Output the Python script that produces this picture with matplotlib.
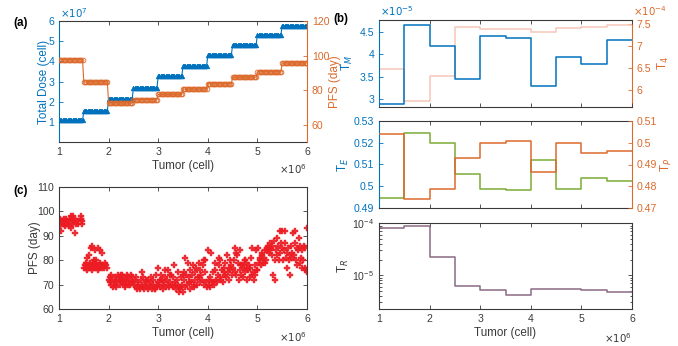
import numpy as np
import matplotlib.pyplot as plt
from matplotlib.ticker import FuncFormatter, LogLocator, NullFormatter

plt.rcParams['font.family'] = ['Liberation Sans', 'DejaVu Sans']

BLUE = (0.0, 0.447, 0.741)
ORANGE = '#dc6a2c'
PINK = '#f6c6b8'
GREEN = '#7aab36'
PURPLE = '#8a6a84'
RED = '#ec1c24'
GRAY = '#3a3a3a'
TICK_FS = 7.6
LAB_FS = 8.4
EXP_FS = 7.4

# tumour size bins, in units of 1e6 cells
step_edges = [1.0, 1.5, 2.0, 2.5, 3.0, 3.5, 4.0, 4.5, 5.0, 5.5, 6.0]

# (a) total dose and PFS per bin
total_dose = [1.07e7, 1.55e7, 2.13e7, 2.68e7, 3.25e7, 3.75e7, 4.30e7, 4.83e7, 5.32e7, 5.77e7]
pfs_step = [97.6, 84.7, 72.5, 74.5, 77.5, 80.6, 83.7, 87.5, 90.6, 95.7]

# (b) optimal schedule parameters per bin
t_m = [2.88e-5, 4.67e-5, 4.18e-5, 3.45e-5, 4.42e-5, 4.37e-5, 3.29e-5, 3.95e-5, 3.78e-5, 4.32e-5]
t_4 = [6.48e-4, 5.75e-4, 6.31e-4, 7.45e-4, 7.39e-4, 7.39e-4, 7.32e-4, 7.41e-4, 7.43e-4, 7.49e-4]
t_e = [0.4948, 0.5245, 0.5200, 0.5057, 0.4990, 0.4982, 0.5122, 0.4990, 0.5040, 0.5026]
t_p = [0.5039, 0.4744, 0.4788, 0.4931, 0.4998, 0.5009, 0.4867, 0.5000, 0.4951, 0.4963]
t_r = [8.0e-5, 8.85e-5, 2.23e-5, 6.1e-6, 5.1e-6, 4.2e-6, 5.4e-6, 5.5e-6, 5.2e-6, 4.75e-6]

# (c) PFS of individual virtual patients (tumour in 1e6 cells, PFS in days)
pfs_tumor = [
    1.00, 1.02, 1.03, 1.05, 1.06, 1.08, 1.09, 1.11, 1.12, 1.14, 1.15, 1.17, 1.18, 1.20, 1.21, 1.23, 1.24, 1.26,
    1.27, 1.29, 1.30, 1.32, 1.33, 1.35, 1.36, 1.38, 1.44, 1.45, 1.46, 1.47, 1.03, 1.10, 1.25, 1.28, 1.45,
    1.50, 1.52, 1.54, 1.55, 1.57, 1.58, 1.60, 1.62, 1.63, 1.65, 1.66, 1.68, 1.70, 1.71, 1.73, 1.75, 1.76, 1.78,
    1.80, 1.81, 1.83, 1.85, 1.87, 1.89, 1.91, 1.93, 1.95, 1.97, 1.56, 1.60, 1.64, 1.67, 1.72, 1.74, 1.79, 1.82,
    1.86, 1.69,
    2.00, 2.02, 2.03, 2.05, 2.07, 2.08, 2.10, 2.12, 2.13, 2.15, 2.17, 2.18, 2.20, 2.22, 2.23, 2.25, 2.27, 2.28,
    2.30, 2.32, 2.33, 2.35, 2.37, 2.38, 2.40, 2.42, 2.43, 2.45, 2.47, 2.48, 2.04, 2.14, 2.24, 2.34, 2.44,
    2.50, 2.52, 2.54, 2.55, 2.57, 2.59, 2.60, 2.62, 2.64, 2.65, 2.67, 2.69, 2.70, 2.72, 2.74, 2.75, 2.77, 2.79,
    2.80, 2.82, 2.84, 2.85, 2.87, 2.89, 2.90, 2.92, 2.94, 2.95, 2.97, 2.99, 2.56, 2.68, 2.76, 2.86, 2.93,
    3.00, 3.02, 3.04, 3.05, 3.07, 3.09, 3.10, 3.12, 3.14, 3.15, 3.17, 3.19, 3.20, 3.22, 3.24, 3.25, 3.27, 3.29,
    3.30, 3.32, 3.34, 3.35, 3.37, 3.39, 3.40, 3.42, 3.44, 3.45, 3.47, 3.49, 3.03, 3.13, 3.23, 3.33, 3.43,
    3.50, 3.52, 3.54, 3.55, 3.57, 3.59, 3.60, 3.62, 3.64, 3.65, 3.67, 3.69, 3.70, 3.72, 3.74, 3.75, 3.77, 3.79,
    3.80, 3.82, 3.84, 3.85, 3.87, 3.89, 3.90, 3.92, 3.94, 3.95, 3.97, 3.99, 3.53, 3.63, 3.73, 3.83, 3.93,
    4.00, 4.02, 4.04, 4.05, 4.07, 4.09, 4.10, 4.12, 4.14, 4.15, 4.17, 4.19, 4.20, 4.22, 4.24, 4.25, 4.27, 4.29,
    4.30, 4.32, 4.34, 4.35, 4.37, 4.39, 4.40, 4.42, 4.44, 4.45, 4.47, 4.49, 4.03, 4.13, 4.23, 4.33, 4.43,
    4.50, 4.52, 4.54, 4.55, 4.57, 4.59, 4.60, 4.62, 4.64, 4.65, 4.67, 4.69, 4.70, 4.72, 4.74, 4.75, 4.77, 4.79,
    4.80, 4.82, 4.84, 4.85, 4.87, 4.89, 4.90, 4.92, 4.94, 4.95, 4.97, 4.99, 4.56, 4.66, 4.76, 4.86, 4.96,
    5.00, 5.02, 5.04, 5.05, 5.07, 5.09, 5.10, 5.12, 5.14, 5.15, 5.17, 5.19, 5.20, 5.22, 5.24, 5.25, 5.27, 5.29,
    5.30, 5.32, 5.34, 5.35, 5.37, 5.39, 5.40, 5.42, 5.44, 5.45, 5.47, 5.49, 5.06, 5.16, 5.26, 5.36, 5.46,
    5.50, 5.52, 5.54, 5.55, 5.57, 5.59, 5.60, 5.62, 5.64, 5.65, 5.67, 5.69, 5.70, 5.72, 5.74, 5.75, 5.77, 5.79,
    5.80, 5.82, 5.84, 5.85, 5.87, 5.89, 5.90, 5.92, 5.94, 5.95, 5.97, 5.99, 5.56, 5.66, 5.76, 5.86, 5.96, 6.00,
]
pfs_days = [
    97, 96, 97, 92, 96, 95, 96, 95, 94, 95, 97, 96, 95, 94, 96, 97, 98, 96,
    97, 95, 96, 97, 91, 95, 96, 95, 98, 97, 96, 95, 94, 97, 93, 98, 97,
    77, 78, 77, 79, 76, 78, 77, 79, 78, 77, 76, 78, 80, 77, 79, 77, 78, 76,
    78, 77, 79, 78, 77, 78, 77, 79, 78, 77, 81, 82, 85, 86, 84, 80, 85, 84,
    83, 79,
    72, 71, 73, 70, 72, 69, 71, 73, 70, 72, 71, 74, 72, 70, 73, 71, 72, 74,
    71, 73, 70, 72, 74, 71, 73, 70, 72, 74, 71, 73, 74, 69, 74, 69, 70,
    71, 70, 72, 69, 68, 70, 71, 69, 68, 72, 70, 69, 73, 68, 70, 71, 69, 72,
    68, 70, 69, 71, 68, 70, 72, 69, 68, 74, 70, 71, 73, 75, 72, 73, 68,
    77, 70, 69, 74, 72, 70, 68, 71, 73, 69, 72, 70, 76, 69, 71, 74, 70, 73,
    69, 78, 71, 68, 72, 70, 75, 67, 69, 73, 70, 74, 72, 76, 74, 70, 68,
    67, 72, 81, 69, 74, 70, 79, 73, 68, 76, 71, 74, 78, 70, 75, 72, 77, 70,
    73, 79, 71, 76, 74, 72, 78, 70, 75, 80, 71, 69, 75, 71, 69, 73, 80,
    84, 70, 73, 69, 83, 71, 75, 70, 79, 76, 72, 71, 74, 78, 73, 80, 72, 76,
    71, 77, 74, 79, 73, 82, 75, 72, 80, 76, 78, 74, 72, 71, 81, 75, 77,
    77, 80, 75, 85, 74, 82, 79, 72, 76, 84, 74, 78, 73, 77, 80, 75, 79, 72,
    77, 76, 78, 73, 81, 74, 85, 75, 72, 78, 84, 76, 83, 78, 80, 77, 74,
    76, 85, 79, 80, 78, 82, 83, 79, 81, 84, 80, 85, 84, 86, 83, 87, 85, 82,
    86, 74, 88, 72, 84, 89, 82, 86, 80, 83, 87, 85, 81, 79, 84, 80, 92,
    92, 80, 84, 92, 81, 83, 77, 85, 80, 74, 86, 81, 83, 91, 82, 87, 80, 85,
    78, 84, 89, 86, 81, 77, 84, 80, 86, 85, 76, 75, 87, 82, 92, 79, 77, 93,
]

W, H = 678, 346


def rect(left, top, right, bottom):
    return [left / W, 1 - bottom / H, (right - left) / W, (bottom - top) / H]


def fig_text(fig, x, y, s, **kw):
    fig.text(x / W, 1 - y / H, s, **kw)


def scaled(scale):
    return FuncFormatter(lambda v, p: f'{v / scale:g}')


def box(ax, left=GRAY, right=GRAY, twin=False):
    for sp in ax.spines.values():
        sp.set_color(GRAY)
        sp.set_linewidth(0.8)
    ax.spines['left'].set_color(left)
    ax.spines['right'].set_color(right)
    ax.tick_params(axis='both', which='both', direction='in', labelsize=TICK_FS,
                   top=True, right=not twin, width=0.6, length=3,
                   color=GRAY, labelcolor=GRAY)
    ax.set_xlim(1e6, 6e6)
    ax.set_xticks(np.arange(1, 7) * 1e6)
    ax.xaxis.set_major_formatter(scaled(1e6))


def steps(ax, vals, color):
    x = np.array(step_edges) * 1e6
    ax.step(x, list(vals) + [vals[-1]], where='post', color=color, lw=1.1)


def twin_style(ax, ax2):
    ax.spines['right'].set_visible(False)
    ax.tick_params(axis='y', colors=BLUE, right=False)
    for s in ['left', 'top', 'bottom']:
        ax2.spines[s].set_visible(False)
    ax2.spines['right'].set_color(ORANGE)
    ax2.spines['right'].set_linewidth(0.8)
    ax2.tick_params(axis='y', direction='in', colors=ORANGE, labelsize=TICK_FS, width=0.6, length=3)


fig = plt.figure(figsize=(W / 100, H / 100), dpi=100)

# ---- (a)
ax_a = fig.add_axes(rect(59, 21, 307, 142))
box(ax_a, left=BLUE, right=ORANGE, twin=True)
ax_a2 = ax_a.twinx()
twin_style(ax_a, ax_a2)
grid = np.arange(1e6, 6e6 + 1, 2.5e4)
idx = np.minimum(np.searchsorted(np.array(step_edges) * 1e6, grid, side='right') - 1, 9)
ax_a.plot(grid, np.array(total_dose)[idx], '-^', color=BLUE, ms=3.3, lw=0.8, mew=0.5)
ax_a2.plot(grid, np.array(pfs_step)[idx], '-o', color=ORANGE, ms=3.4, lw=0.8, mew=0.6, mfc='none')
ax_a.set_ylim(0, 6e7)
ax_a.set_yticks(np.arange(1, 7) * 1e7)
ax_a.yaxis.set_major_formatter(scaled(1e7))
ax_a2.set_ylim(50, 120)
ax_a2.set_yticks([60, 80, 100, 120])
ax_a.set_xlabel('Tumor (cell)', fontsize=LAB_FS, color=GRAY, labelpad=2)
ax_a.set_ylabel('Total Dose (cell)', fontsize=LAB_FS, color=BLUE)
ax_a.yaxis.set_label_coords(-0.037, 0.5)
ax_a2.set_ylabel('PFS (day)', fontsize=LAB_FS, color=ORANGE)
ax_a2.yaxis.set_label_coords(1.088, 0.5)
fig_text(fig, 60, 20, r'$\times10^{7}$', fontsize=EXP_FS, color=BLUE, va='bottom')
fig_text(fig, 307, 162, r'$\times10^{6}$', fontsize=EXP_FS, color=GRAY, ha='right', va='top')
fig_text(fig, 13, 23, '(a)', fontsize=LAB_FS, fontweight='bold', va='center')

# ---- (c)
ax_c = fig.add_axes(rect(59, 187, 307, 309))
box(ax_c)
ax_c.plot(np.array(pfs_tumor) * 1e6, pfs_days, 'P', color=RED, ms=5, mew=0.3, ls='none', alpha=0.9)
ax_c.set_ylim(60, 110)
ax_c.set_yticks(np.arange(60, 111, 10))
ax_c.set_xlabel('Tumor (cell)', fontsize=LAB_FS, color=GRAY, labelpad=2)
ax_c.set_ylabel('PFS (day)', fontsize=LAB_FS, color=GRAY)
ax_c.yaxis.set_label_coords(-0.072, 0.5)
fig_text(fig, 307, 330, r'$\times10^{6}$', fontsize=EXP_FS, color=GRAY, ha='right', va='top')
fig_text(fig, 13, 191, '(c)', fontsize=LAB_FS, fontweight='bold', va='center')

# ---- (b) top
ax_b1 = fig.add_axes(rect(379, 19.5, 632, 107))
box(ax_b1, left=BLUE, right=ORANGE, twin=True)
ax_b1b = ax_b1.twinx()
twin_style(ax_b1, ax_b1b)
steps(ax_b1b, t_4, PINK)
steps(ax_b1, t_m, BLUE)
ax_b1.set_zorder(ax_b1b.get_zorder() + 1)
ax_b1.patch.set_visible(False)
ax_b1.set_ylim(2.81e-5, 4.79e-5)
ax_b1.set_yticks([3e-5, 3.5e-5, 4e-5, 4.5e-5])
ax_b1.yaxis.set_major_formatter(scaled(1e-5))
ax_b1b.set_ylim(5.61e-4, 7.61e-4)
ax_b1b.set_yticks([6e-4, 6.5e-4, 7e-4, 7.5e-4])
ax_b1b.yaxis.set_major_formatter(scaled(1e-4))
ax_b1.tick_params(axis='x', labelbottom=False)
ax_b1.set_ylabel(r'T$_M$', fontsize=LAB_FS, color=BLUE)
ax_b1.yaxis.set_label_coords(-0.094, 0.5)
ax_b1b.set_ylabel(r'T$_4$', fontsize=LAB_FS, color=ORANGE)
ax_b1b.yaxis.set_label_coords(1.093, 0.5)
fig_text(fig, 380, 18, r'$\times10^{-5}$', fontsize=EXP_FS, color=BLUE, va='bottom')
fig_text(fig, 633, 18, r'$\times10^{-4}$', fontsize=EXP_FS, color=ORANGE, va='bottom')
fig_text(fig, 333, 19, '(b)', fontsize=LAB_FS, fontweight='bold', va='center')

# ---- (b) middle
ax_b2 = fig.add_axes(rect(379, 120.7, 632, 208.3))
box(ax_b2, left=BLUE, right=ORANGE, twin=True)
ax_b2b = ax_b2.twinx()
twin_style(ax_b2, ax_b2b)
steps(ax_b2, t_e, GREEN)
steps(ax_b2b, t_p, ORANGE)
ax_b2.set_ylim(0.49, 0.53)
ax_b2.set_yticks([0.49, 0.50, 0.51, 0.52, 0.53])
ax_b2.yaxis.set_major_formatter(FuncFormatter(lambda v, p: f'{v:g}'))
ax_b2b.set_ylim(0.47, 0.51)
ax_b2b.set_yticks([0.47, 0.48, 0.49, 0.50, 0.51])
ax_b2b.yaxis.set_major_formatter(FuncFormatter(lambda v, p: f'{v:g}'))
ax_b2.tick_params(axis='x', labelbottom=False)
ax_b2.set_ylabel(r'T$_E$', fontsize=LAB_FS, color=BLUE)
ax_b2.yaxis.set_label_coords(-0.11, 0.5)
ax_b2b.set_ylabel(r'T$_P$', fontsize=LAB_FS, color=ORANGE)
ax_b2b.yaxis.set_label_coords(1.108, 0.5)

# ---- (b) bottom
ax_b3 = fig.add_axes(rect(379, 223.3, 632, 309.3))
box(ax_b3)
steps(ax_b3, t_r, PURPLE)
ax_b3.set_yscale('log')
ax_b3.set_ylim(2.2e-6, 1e-4)
ax_b3.yaxis.set_major_locator(LogLocator(base=10, numticks=5))
ax_b3.yaxis.set_minor_locator(LogLocator(base=10, subs=np.arange(2, 10), numticks=10))
ax_b3.yaxis.set_minor_formatter(NullFormatter())
ax_b3.tick_params(axis='y', which='minor', length=1.8)
ax_b3.set_xlabel('Tumor (cell)', fontsize=LAB_FS, color=GRAY, labelpad=2)
ax_b3.set_ylabel(r'T$_R$', fontsize=LAB_FS, color=GRAY)
ax_b3.yaxis.set_label_coords(-0.11, 0.5)
fig_text(fig, 632, 331, r'$\times10^{6}$', fontsize=EXP_FS, color=GRAY, ha='right', va='top')

fig.savefig('out.png', dpi=100)
